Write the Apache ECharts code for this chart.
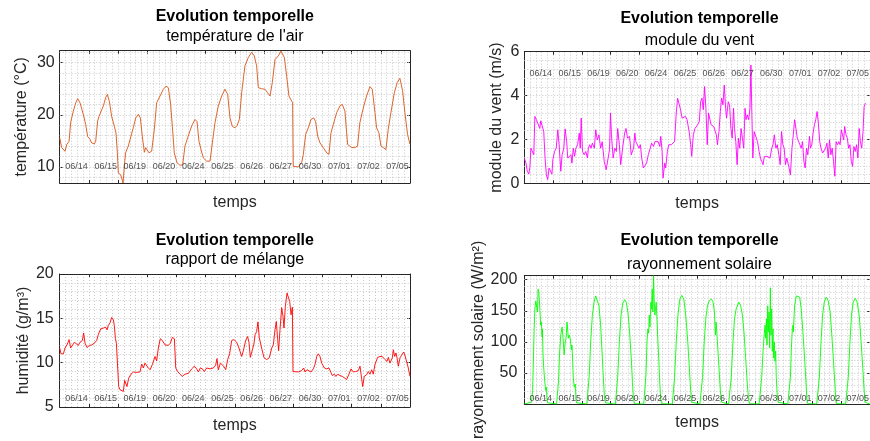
<!DOCTYPE html>
<html><head><meta charset="utf-8">
<script src="https://cdn.jsdelivr.net/npm/echarts@6/dist/echarts.min.js"></script>
<style>html,body{margin:0;padding:0;background:#fff}#c{width:870px;height:441px}</style>
</head><body><div id="c"></div><script>
// ---- categories (day labels) ----
const days = ['06/14','06/15','06/19','06/20','06/24','06/25','06/26','06/27','06/30','07/01','07/02','07/05'];

// ---- temperature (°C) : time in hours since start ----
const tempT = [0,1.6,4.4,5.8,7.7,9.0,11.2,13.2,14.8,16.7,19.5,21.4,23.0,24.7,26.3,28.5,29.6,31.2,32.3,33.7,35.9,37.8,39.2,40.8,42.7,44.9,46.3,47.4,48.2,50.1,52.1,53.2,54.2,56.4,58.6,60.5,62.5,64.7,66.3,67.9,69.6,70.7,72.1,73.4,75.6,77.8,79.7,82.5,85.2,87.4,89.3,91.2,92.6,94.2,96.4,98.9,101.1,103.0,105.2,107.1,109.0,111.2,112.9,114.5,116.2,118.1,120.8,123.6,125.5,127.7,130.4,133.2,135.9,138.1,140.0,141.9,144.1,145.8,147.7,149.6,152.3,155.1,157.8,160.0,161.9,163.3,166.0,168.8,171.0,172.9,174.8,177.0,179.7,181.9,184.7,186.6,188.5,190.1,191.5,192.0,193.4,196.2,198.9,200.3,202.2,204.4,206.6,208.8,210.4,212.1,214.0,216.7,219.5,221.4,223.0,224.9,227.7,230.4,232.3,234.5,236.7,240.0,242.7,244.9,246.8,249.6,252.3,255.1,257.0,259.2,260.5,262.5,264.1,266.0,268.2,270.1,272.3,275.1,277.5,279.7,281.9,283.8,286.0,288.0];
const tempV = [15.6,13.7,13.0,14.3,14.9,18.5,20.7,22.3,23.1,22.3,20.0,18.1,15.8,15.4,14.6,14.4,14.9,18.8,19.7,19.4,21.7,23.3,23.9,22.6,19.7,17.8,16.5,12.7,8.8,8.5,6.9,10.4,12.7,14.0,15.9,17.5,19.4,20.1,19.4,15.9,12.8,13.7,14.0,12.7,13.0,17.2,22.3,23.6,24.9,25.5,25.2,22.0,17.8,12.7,10.8,10.3,10.4,14.0,15.6,16.9,18.1,19.1,18.7,14.9,13.3,11.7,11.1,11.1,14.6,18.5,21.7,23.6,24.9,23.9,19.4,17.8,17.5,17.9,19.1,24.2,29.4,31.0,32.0,31.3,29.4,25.2,25.0,24.9,24.2,23.6,26.2,30.6,31.3,32.2,31.0,27.4,23.6,22.9,22.3,10.1,10.0,10.0,10.8,12.4,16.2,17.5,19.1,19.4,18.7,15.9,14.6,13.7,12.7,12.4,16.5,18.1,20.4,21.7,22.0,20.7,14.3,13.7,13.7,14.0,18.5,21.3,23.6,25.4,24.9,20.4,17.5,16.5,14.0,13.7,13.3,17.2,20.4,24.2,26.2,27.0,24.6,20.4,16.2,14.3];

// ---- wind speed (m/s) ----
const windT = [0.0,1.4,2.5,3.8,4.7,5.5,6.9,7.9,8.8,10.1,11.5,12.9,13.7,15.1,16.2,17.3,18.4,19.5,20.6,21.9,23.0,23.8,25.2,26.6,27.9,29.0,30.4,31.5,32.9,34.0,35.3,36.2,37.5,38.9,39.7,40.8,41.9,43.0,44.4,45.8,46.6,47.4,48.5,49.9,51.2,52.6,53.4,54.5,55.6,56.7,58.4,59.5,60.8,62.2,63.6,64.9,66.6,68.2,69.6,71.0,71.8,72.6,74.0,75.4,76.7,77.8,79.2,80.3,81.9,83.6,84.7,86.0,87.7,89.1,91.0,92.1,92.9,94.3,95.6,96.7,97.8,99.2,100.6,101.9,103.3,104.9,106.0,107.7,108.8,109.9,111.5,112.9,113.7,114.8,115.6,117.0,117.8,119.2,120.3,121.4,122.5,123.8,125.2,126.6,127.7,129.1,130.2,131.5,132.9,134.3,135.6,136.7,137.5,138.6,139.5,140.8,142.2,143.6,
144.4,145.8,146.9,148.0,149.1,150.2,151.3,152.4,153.5,154.5,155.6,156.7,157.8,158.9,160.0,160.9,162.2,163.3,164.4,165.5,166.6,167.7,168.5,169.9,171.0,172.1,173.2,174.3,175.1,176.2,177.3,178.4,179.5,180.6,181.7,182.8,183.9,184.7,185.8,186.9,188.0,188.8,189.6,190.4,191.5,192.9,194.3,195.6,196.7,197.8,198.9,200.0,201.1,202.2,203.3,204.7,206.1,207.2,208.3,209.6,210.7,212.1,213.2,214.3,215.4,216.5,217.6,218.7,220.3,221.7,223.0,224.1,225.2,226.3,227.4,228.5,229.6,230.7,231.8,232.9,234.0,235.1,236.2,237.6,238.4,239.5,240.6,241.7,242.8,243.9,245.0,246.1,247.2,248.5,249.9,251.0,252.1,253.2,254.3,255.4,256.5,257.6,258.7,259.8,260.9,262.0,263.1,264.1,265.2,266.1,266.9,268.0,269.1,270.2,271.3,272.4,273.5,274.6,275.7,276.8,277.9,279.0,280.0,281.1,282.2,283.1,284.2];
const windV = [1.15,0.92,0.55,0.42,0.77,1.6,1.68,1.3,3.05,2.9,2.97,2.5,2.85,2.82,2.36,1.15,0.39,0.17,0.7,0.77,0.42,1.08,1.45,1.6,2.44,1.76,0.55,1.3,1.6,2.48,1.9,1.15,1.08,1.3,0.92,1.6,1.23,1.6,1.76,2.29,1.6,2.97,1.45,1.3,1.45,1.15,1.6,1.76,1.6,1.83,1.6,2.44,1.98,2.21,1.6,1.9,1.0,0.62,0.7,1.53,3.2,2.21,1.15,1.6,1.45,2.5,1.76,0.85,1.6,2.29,2.5,2.06,2.14,1.3,1.6,2.29,1.9,1.83,1.6,1.76,1.15,0.7,0.62,0.92,1.3,1.6,1.83,1.68,1.9,1.83,1.9,1.68,2.14,1.45,0.24,0.92,0.7,1.45,1.76,1.83,1.76,1.83,1.9,3.2,3.88,3.8,3.35,2.97,2.9,3.05,2.9,2.97,2.29,1.76,1.23,2.21,2.5,2.59,
2.67,2.82,3.72,3.88,3.35,4.41,3.42,1.76,3.2,3.12,2.67,2.74,2.59,2.5,2.21,1.76,2.36,3.27,3.88,3.58,4.48,3.42,2.97,3.72,3.58,2.5,2.06,3.42,2.5,1.9,0.85,2.06,1.6,2.5,2.06,1.6,3.42,2.9,3.12,2.9,3.42,5.39,3.12,1.15,2.36,2.29,1.9,1.45,1.15,1.0,0.85,1.23,1.3,1.23,1.3,1.15,1.6,1.76,2.21,1.6,1.76,1.3,0.85,2.36,1.76,1.6,0.85,1.15,0.77,0.39,1.6,2.21,2.9,2.5,2.06,2.06,1.76,1.6,1.9,1.0,0.7,1.6,1.3,2.14,1.6,1.76,2.29,2.67,2.9,3.27,2.74,1.9,1.6,1.38,1.45,1.6,1.83,1.15,1.98,1.3,1.6,1.0,0.32,1.9,1.76,1.9,1.76,2.44,2.5,1.98,2.59,2.21,2.06,1.6,1.76,1.0,0.77,1.68,1.45,1.76,1.15,2.5,1.9,1.6,2.36,3.5,3.65];

// ---- humidity / mixing ratio (g/m3) ----
const humT = [0.0,1.1,3.0,4.4,6.3,7.7,9.0,10.4,12.1,13.4,15.3,16.7,18.6,19.7,20.8,22.5,24.4,26.3,28.5,30.4,31.8,33.7,35.9,37.8,38.9,40.0,41.4,42.7,44.1,44.9,45.8,46.6,47.7,48.5,49.6,51.0,52.3,53.4,54.3,55.3,56.7,58.6,60.6,62.5,64.1,66.0,67.4,68.8,70.1,72.3,74.3,76.2,78.4,79.7,81.1,82.7,84.4,86.6,89.3,91.0,92.6,94.3,95.4,97.0,98.9,100.8,103.0,105.8,108.5,110.7,112.6,114.0,115.6,117.3,118.9,120.8,123.6,126.3,128.2,129.3,130.4,132.1,133.7,134.8,136.5,138.1,139.7,141.4,143.3,145.5,147.4,149.6,150.9,152.9,154.5,155.6,156.7,157.8,159.7,160.6,161.9,163.0,164.1,166.0,168.0,170.2,172.3,174.3,175.6,177.0,178.1,179.2,180.0,181.1,182.5,183.6,184.4,185.5,186.9,188.0,189.1,190.2,191.3,191.8,193.4,196.2,198.9,200.6,201.7,203.3,204.9,206.6,208.5,209.9,211.3,212.6,214.0,215.4,217.6,219.5,221.4,223.0,224.1,225.8,227.1,228.5,230.4,232.4,234.0,235.9,237.8,239.5,241.4,243.3,245.5,246.9,248.2,249.1,250.4,252.4,253.7,255.1,256.5,257.8,259.2,261.4,263.3,265.2,267.4,269.1,270.2,271.5,273.5,274.3,275.4,276.5,277.3,278.4,279.8,281.1,282.8,283.9,285.2,286.6,288.0];
const humV = [11.65,11.0,11.0,11.65,12.1,12.6,11.65,11.7,12.3,12.1,11.95,12.3,12.5,13.35,12.2,11.7,11.95,12.0,12.2,12.5,13.2,13.8,13.9,14.0,13.7,14.2,14.5,15.1,14.85,14.2,12.7,12.2,9.4,7.3,6.95,6.75,6.75,8.0,7.9,7.3,8.25,8.7,8.95,8.9,9.0,8.95,9.85,9.4,9.95,9.5,9.2,9.8,10.7,10.2,11.65,12.7,12.5,12.0,11.95,12.2,12.85,12.7,9.4,9.0,8.7,8.45,8.7,8.8,9.3,9.6,9.3,8.95,9.4,9.3,9.0,9.4,9.3,9.4,9.7,10.45,9.2,9.95,10.15,9.6,9.2,10.35,11.0,12.5,12.6,12.3,11.65,10.7,11.3,12.5,12.95,12.3,10.6,10.8,12.1,13.15,13.5,14.6,12.8,11.65,10.55,10.35,10.55,11.65,12.0,13.7,14.65,12.6,11.35,13.7,16.2,15.2,13.9,16.35,17.85,18.05,16.9,15.4,16.25,9.0,9.0,8.95,9.1,9.4,8.95,9.2,9.4,8.95,9.3,9.8,10.7,11.0,10.7,9.95,9.4,9.3,9.4,9.3,8.55,8.7,8.45,8.7,8.55,8.45,8.55,8.1,8.7,9.3,8.95,9.0,9.1,9.6,8.25,7.3,8.45,8.65,9.0,8.7,9.2,8.7,9.8,10.6,10.7,10.7,10.35,10.15,10.6,9.95,10.55,11.45,10.7,11.1,10.55,9.6,10.55,10.85,11.2,10.8,10.9,9.4,8.45];

// ---- solar radiation (W/m2) ----
const radT = [0,6.0,6.9,7.4,8.2,8.8,9.6,10.4,11.0,11.5,12.1,12.6,13.2,13.7,14.2,14.8,15.1,15.6,16.2,17.0,17.8,18.4,18.9,19.5,21.1,
26.9,27.4,28.5,29.3,30.4,31.5,32.3,33.2,34.0,34.8,35.6,36.2,36.7,37.5,38.4,39.2,39.7,40.3,40.8,41.6,42.5,43.0,43.6,44.4,
52.1,52.6,54.0,55.3,56.7,58.1,59.5,60.8,62.2,63.6,64.9,66.0,66.9,67.7,68.5,
75.9,76.4,77.8,79.2,80.6,81.9,83.6,84.9,86.3,87.7,89.1,90.1,91.0,91.8,
99.5,100.0,101.4,102.2,103.0,103.6,104.1,104.7,105.5,106.0,106.6,107.1,107.7,108.2,108.8,109.3,109.9,110.4,111.2,112.1,112.9,113.7,114.5,
123.3,123.8,125.2,126.6,128.0,129.6,131.2,132.9,134.5,136.2,137.5,138.6,139.5,140.6,
146.3,147.1,148.5,149.9,151.3,152.6,154.0,155.9,157.3,158.4,158.9,159.2,159.8,160.9,162.2,163.3,164.4,165.5,
170.2,171.0,172.4,173.7,175.1,176.5,178.7,180.3,181.7,183.0,184.4,185.8,186.9,187.7,
195.6,196.5,197.8,198.9,199.8,200.6,201.1,201.7,202.2,202.8,203.3,203.9,204.4,205.0,205.5,206.1,206.6,207.2,207.7,208.3,208.8,209.4,209.9,210.7,211.5,212.4,
219.5,220.3,221.7,222.5,223.3,223.9,224.1,225.2,226.6,228.0,229.4,230.7,232.1,233.5,234.6,235.4,236.2,
243.6,244.4,245.8,247.2,248.5,249.9,251.5,253.2,254.8,256.2,257.6,258.7,259.5,260.3,
267.7,268.5,269.9,271.3,272.6,274.0,275.7,277.3,279.0,280.6,282.0,283.1,283.9,285.0,288.0];
const radV = [0,3,21.6,58,121,153,166,168,148,185,179,166,143,127,132,108,121,79,58,37,22,27,8,2,0,
0,3,37,79,111,124,106,79,98,106,132,135,106,111,103,87,95,69,43,27,32,8,2,0,
0,3,43,100,143,164,174,171,158,127,79,37,8,2,0,
0,3,43,100,143,161,168,164,148,116,74,35,6,0.5,
0,3,48,100,121,114,143,124,164,153,185,148,206.5,169,143,153,164,143,106,69,32,6,0.5,
0,3,43,100,143,169,175,169,143,100,58,22,3,0.5,
0,3,43,100,140,158,166,169,164,148,124,111,132,100,58,22,3,0.5,
0,3,43,95,137,153,164,158,143,116,74,32,6,0.5,
0,3,43,85,111,127,106,137,95,158,116,148,90,187,111,153,85,121,74,100,69,85,43,16,3,0.5,
0,3,43,90,121,127,116,158,174,176,172,153,116,74,37,8,0.5,
0,3,43,100,143,164,172,166,148,111,69,32,6,0.5,
0,3,43,100,143,164,170,164,143,100,58,22,3,0,0];

// ---- axis tick labels ----
const tempTicks = [10,20,30];
const windTicks = [0,2,4,6];
const humTicks = [5,10,15,20];
const radTicks = [50,100,150,200];

const FONT = '"Liberation Sans", Arial, Helvetica, sans-serif';
const AX = '#262626';
const dot = {type:[1,2], color:'#c9c9c9', width:1};

const panels = [
  {grid:{left:59.7, top:50.7, width:350.3, height:132.3}, t:tempT, v:tempV, color:'#D95319',
   ymin:6.9, ymax:32.3, ticks:tempTicks, step:2, name:'température (°C)', nameGap:30, labelY:10, margin:5, xGap:12,
   title:{x:234.8, y1:9, y2:29}, sub:"température de l'air"},
  {grid:{left:524.3, top:51.7, width:350.4, height:131.6}, t:windT, v:windV, color:'#FF00FF',
   ymin:0, ymax:6, ticks:windTicks, step:0.4, name:'module du vent (m/s)', nameGap:20, labelY:5, margin:5, xGap:12,
   title:{x:699.5, y1:11, y2:32.2}, sub:'module du vent'},
  {grid:{left:59.7, top:274, width:350.3, height:133}, t:humT, v:humV, color:'#FF0000',
   ymin:5, ymax:20, ticks:humTicks, step:1, name:'humidité (g/m³)', nameGap:24, labelY:6, margin:6, xGap:11,
   title:{x:234.8, y1:233, y2:251.5}, sub:'rapport de mélange'},
  {grid:{left:524.3, top:275.7, width:350.4, height:131.3}, t:radT, v:radV, color:'#00FF00',
   ymin:0, ymax:206.5, ticks:radTicks, step:10, name:'rayonnement solaire (W/m²)', nameGap:31, labelY:9, margin:7, xGap:11,
   title:{x:699.5, y1:233, y2:256.5}, sub:'rayonnement solaire'}
];

const grid = [], xAxis = [], yAxis = [], series = [], title = [];
panels.forEach((p, i) => {
  grid.push(Object.assign({containLabel:false}, p.grid));
  title.push({text:'Evolution temporelle', left:p.title.x, top:p.title.y1, textAlign:'center', padding:0,
    textStyle:{fontSize:16, fontWeight:'bold', color:'#000', fontFamily:FONT}});
  title.push({text:p.sub, left:p.title.x, top:p.title.y2, textAlign:'center', padding:0,
    textStyle:{fontSize:16, fontWeight:'normal', color:'#000', fontFamily:FONT}});
  const xb = 2*i, yb = 2*i;
  xAxis.push({type:'value', gridIndex:i, min:0, max:288, interval:24, position:'bottom',
    axisLine:{show:true, onZero:false, lineStyle:{color:AX, width:1}},
    axisTick:{show:true, inside:true, length:3, lineStyle:{color:AX}},
    axisLabel:{show:false},
    splitLine:{show:true, lineStyle:dot},
    minorTick:{show:false, splitNumber:5},
    minorSplitLine:{show:true, lineStyle:dot},
    name:'temps', nameLocation:'middle', nameGap:p.xGap,
    nameTextStyle:{fontSize:16, color:AX, fontFamily:FONT}});
  xAxis.push({type:'value', gridIndex:i, min:0, max:288, interval:24, position:'top',
    axisLine:{show:true, onZero:false, lineStyle:{color:AX, width:1}},
    axisTick:{show:true, inside:true, length:3, lineStyle:{color:AX}},
    axisLabel:{show:false}, splitLine:{show:false}});
  yAxis.push({type:'value', gridIndex:i, min:p.ymin, max:p.ymax, position:'left',
    axisLine:{show:true, onZero:false, lineStyle:{color:AX, width:1}},
    axisTick:{show:true, inside:true, length:3, customValues:p.ticks, lineStyle:{color:AX}},
    axisLabel:{show:true, customValues:p.ticks, fontSize:16, color:AX, margin:p.margin, fontFamily:FONT},
    splitLine:{show:false},
    name:p.name, nameLocation:'middle', nameGap:p.nameGap,
    nameTextStyle:{fontSize:16, color:AX, fontFamily:FONT}});
  yAxis.push({type:'value', gridIndex:i, min:p.ymin, max:p.ymax, position:'right',
    axisLine:{show:true, onZero:false, lineStyle:{color:AX, width:1}},
    axisTick:{show:true, inside:true, length:3, customValues:p.ticks, lineStyle:{color:AX}},
    axisLabel:{show:false}, splitLine:{show:false}});
  // horizontal dotted grid values
  const hv = [];
  const n0 = Math.ceil(p.ymin / p.step + 1e-6), n1 = Math.floor(p.ymax / p.step - 1e-6);
  for (let k = n0; k <= n1; k++) hv.push({yAxis: +(k * p.step).toFixed(4)});
  series.push({type:'line', xAxisIndex:xb, yAxisIndex:yb, showSymbol:false, symbol:'none',
    data: p.t.map((t, k) => [t, p.v[k]]),
    lineStyle:{color:p.color, width:0.9}, itemStyle:{color:p.color}, z:3, clip:true, silent:true,
    markLine:{z:1, silent:true, symbol:['none','none'], animation:false, label:{show:false},
      lineStyle:dot, emphasis:{disabled:true}, data:hv}});
  series.push({type:'scatter', xAxisIndex:xb, yAxisIndex:yb, symbolSize:1, silent:true, z:6,
    itemStyle:{color:'rgba(0,0,0,0)'},
    data: days.map((d, k) => ({name:d, value:[k*24 + 13.8, p.labelY]})),
    label:{show:true, position:'inside', formatter:'{b}', fontSize:9, color:AX, fontFamily:FONT}});
});

const chart = echarts.init(document.getElementById('c'), null, {renderer:'canvas'});
chart.setOption({animation:false, backgroundColor:'#fff', title, grid, xAxis, yAxis, series});
</script></body></html>
